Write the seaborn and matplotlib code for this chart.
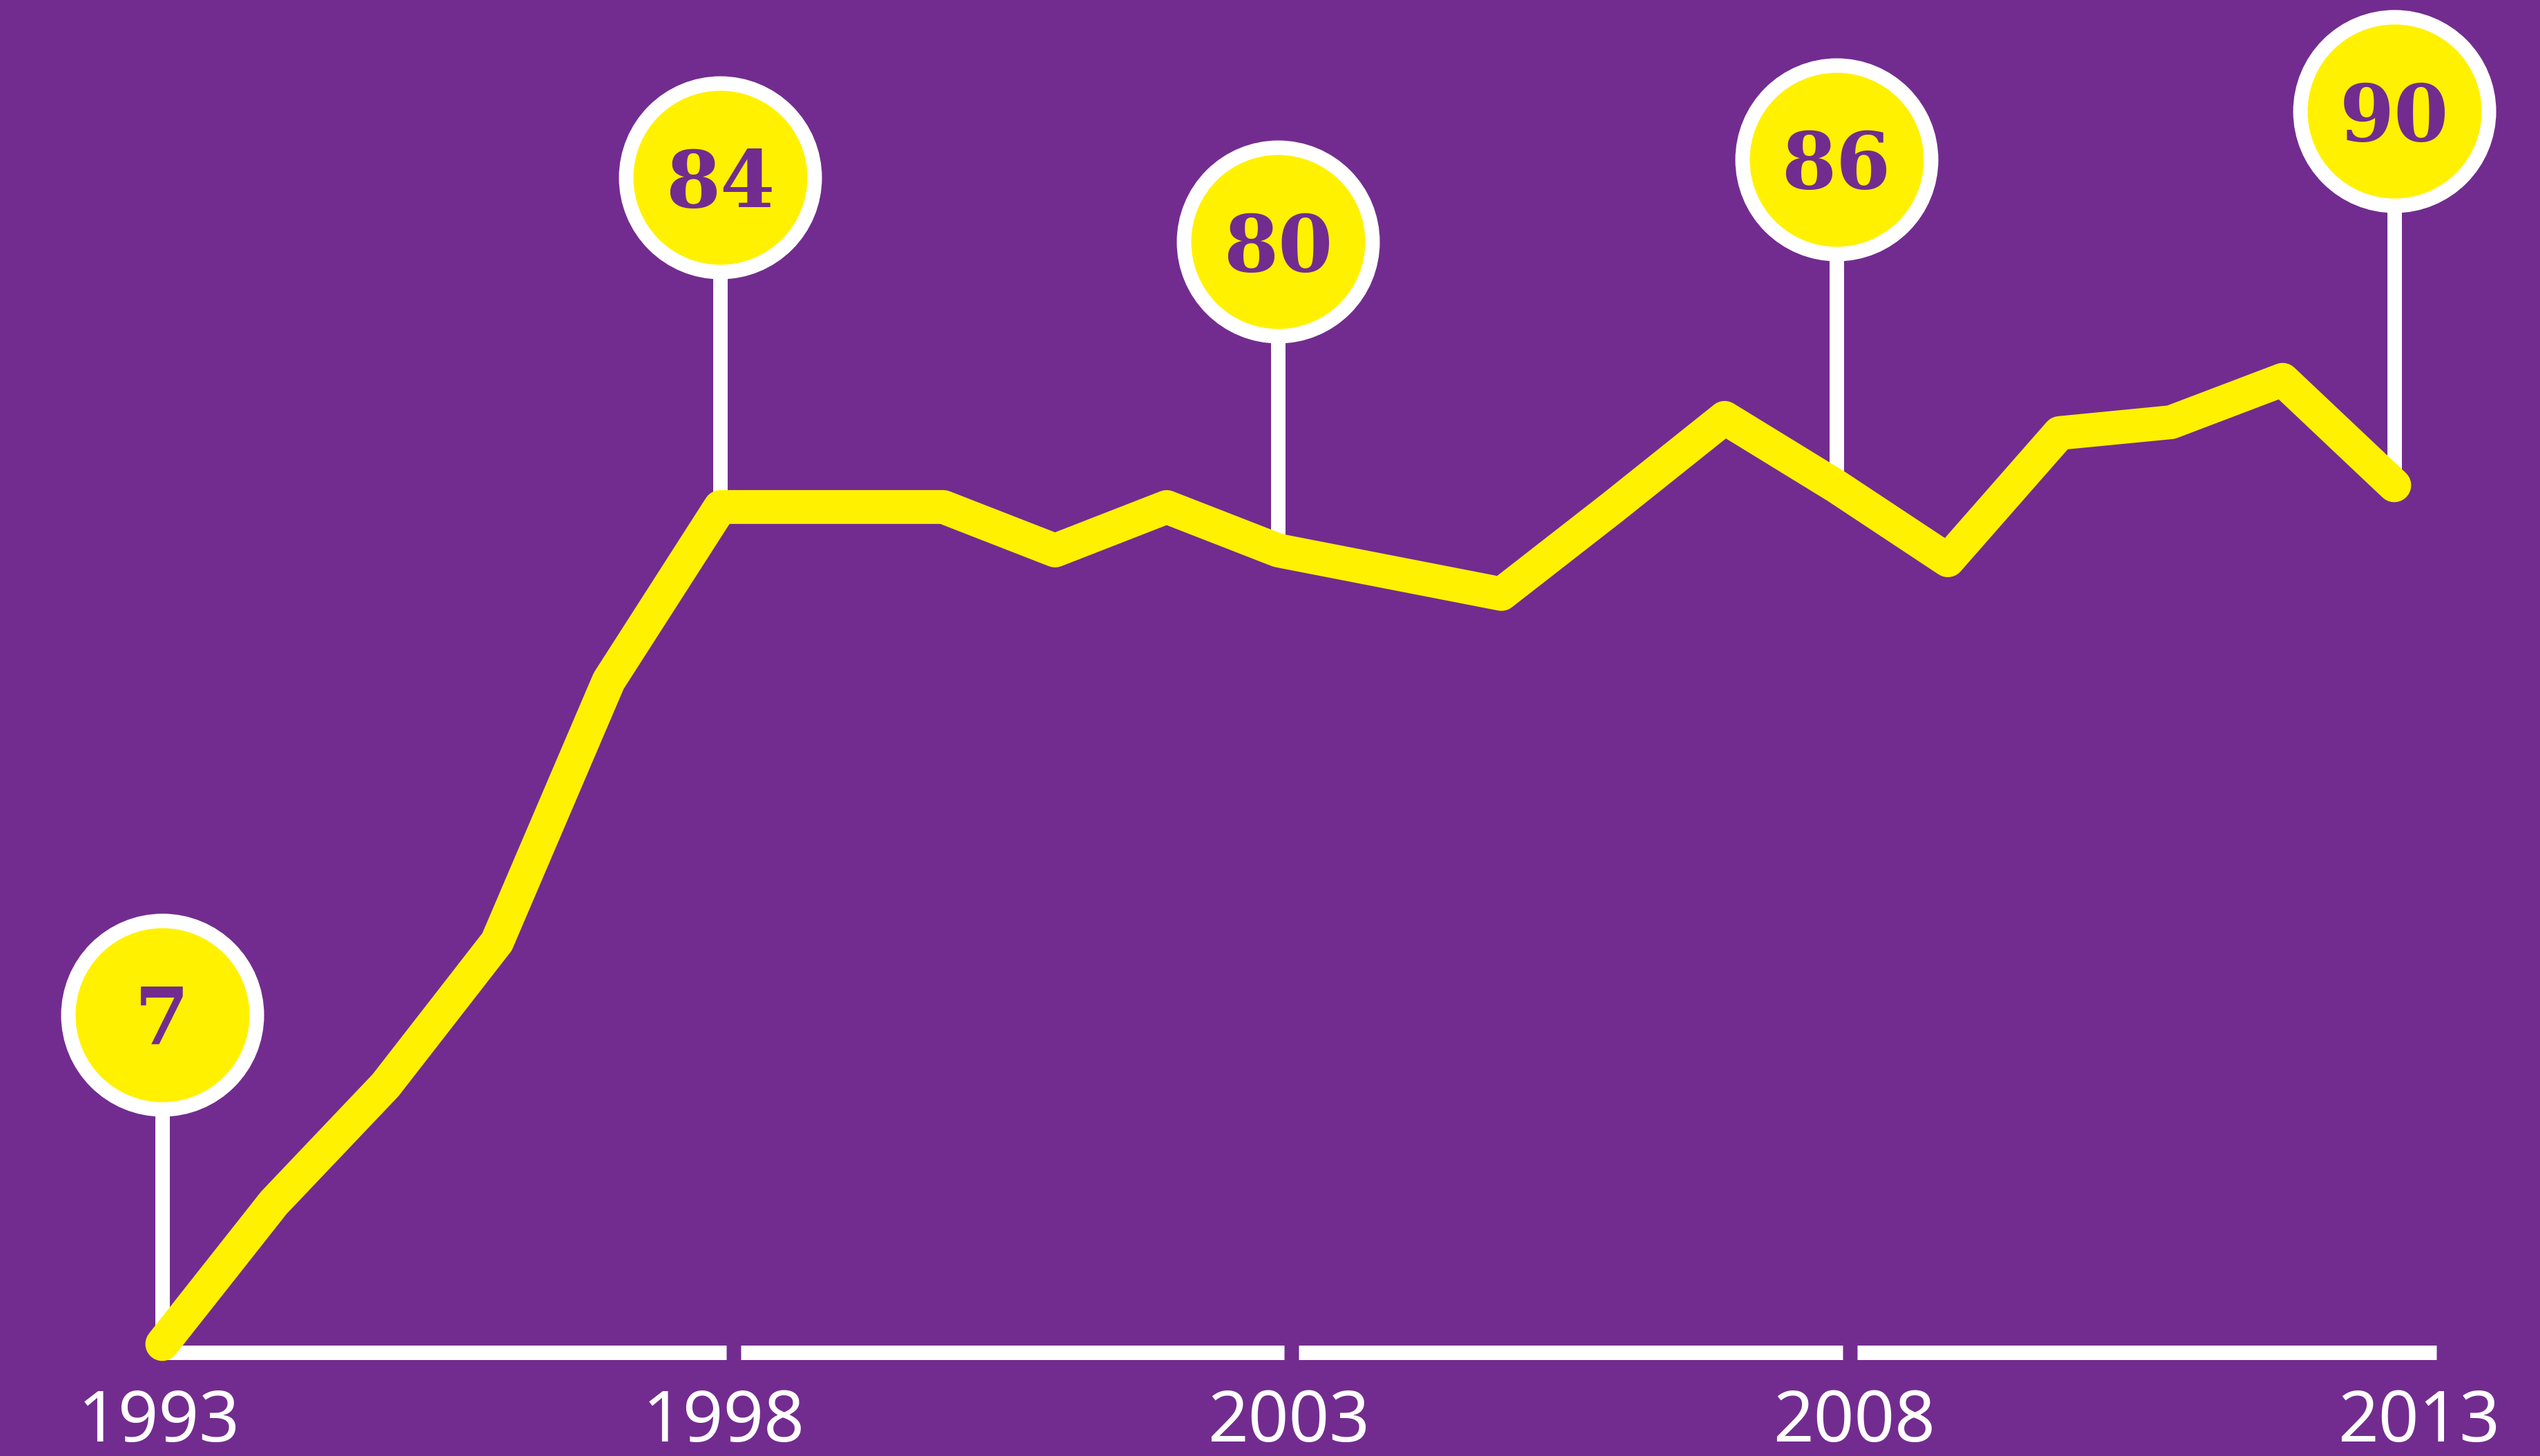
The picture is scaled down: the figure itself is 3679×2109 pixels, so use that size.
import matplotlib
matplotlib.use("Agg")
import matplotlib.pyplot as plt
import seaborn as sns
import pandas as pd

# ---- data ----
years = list(range(1993, 2014))
share = [7, 20, 30.8, 44, 68, 84, 84, 84, 80, 84, 80, 78, 76, 84, 92.2,
         85.9, 79.1, 90.8, 91.8, 95.7, 86]
pin_years = [1993, 1998, 2003, 2008, 2013]
pin_labels = ["7", "84", "80", "86", "90"]
pin_tops = [37.3, 114.3, 108.4, 116.0, 120.4]
tick_years = [1993, 1998, 2003, 2008, 2013]
tick_labels = ["1993", "1998", "2003", "2008", "2013"]

PURPLE = "#722C8F"
YELLOW = "#FFF100"
WHITE = "#FFFFFF"

sns.set_theme(style="white")
plt.rcParams["font.family"] = ["Noto Sans", "DejaVu Sans"]

fig = plt.figure(figsize=(36.79, 21.09), dpi=100, facecolor=PURPLE)
ax = fig.add_axes([0, 0, 1, 1])
ax.set_facecolor(PURPLE)

df = pd.DataFrame({"year": years, "share": share})
pins = pd.DataFrame({"year": pin_years, "top": pin_tops})

# baseline axis with small gaps near the labelled years
base_y = 6.2
gap_shift, gap_half = 0.12, 0.065
starts = [tick_years[0]] + [t + gap_shift + gap_half for t in tick_years[1:-1]]
ends = [t + gap_shift - gap_half for t in tick_years[1:-1]] + [tick_years[-1] + 0.38]
for s, e in zip(starts, ends):
    ax.plot([s, e], [base_y, base_y], color=WHITE, lw=15.1,
            solid_capstyle="butt", zorder=1)

# pin stems
pin_vals = [share[years.index(y)] for y in pin_years]
for x, y0, y1 in zip(pin_years, pin_vals, pin_tops):
    ax.plot([x, x], [y0, y1], color=WHITE, lw=15.1,
            solid_capstyle="butt", zorder=2)

# main yellow line
sns.lineplot(data=df, x="year", y="share", ax=ax, color=YELLOW, lw=35.3,
             solid_capstyle="round", solid_joinstyle="round", zorder=3,
             legend=False)

# pin heads
sns.scatterplot(data=pins, x="year", y="top", ax=ax, s=196.6 ** 2,
                color=YELLOW, edgecolor=WHITE, linewidth=15.1, zorder=4,
                legend=False)
for x, y, lab in zip(pin_years, pin_tops, pin_labels):
    ax.text(x, y - 2.7, lab, ha="center", va="baseline", fontsize=82,
            fontweight="bold", family=["DejaVu Serif"],
            color=PURPLE, zorder=5)

# year labels (the reference spaces them slightly wider than the data)
for t, lab in zip(tick_years, tick_labels):
    lx = t + 0.0125 * (t - tick_years[0]) - 0.03
    ax.text(lx, -1.97, lab, ha="center", va="baseline", fontsize=74,
            color=WHITE, family=["Noto Sans", "DejaVu Sans"],
            fontstretch="condensed", fontweight="normal")

ax.set_xlim(1991.546, 2014.306)
ax.set_ylim(-3.30, 130.64)
ax.set_axis_off()

fig.savefig("out.png", dpi=100, facecolor=PURPLE)
